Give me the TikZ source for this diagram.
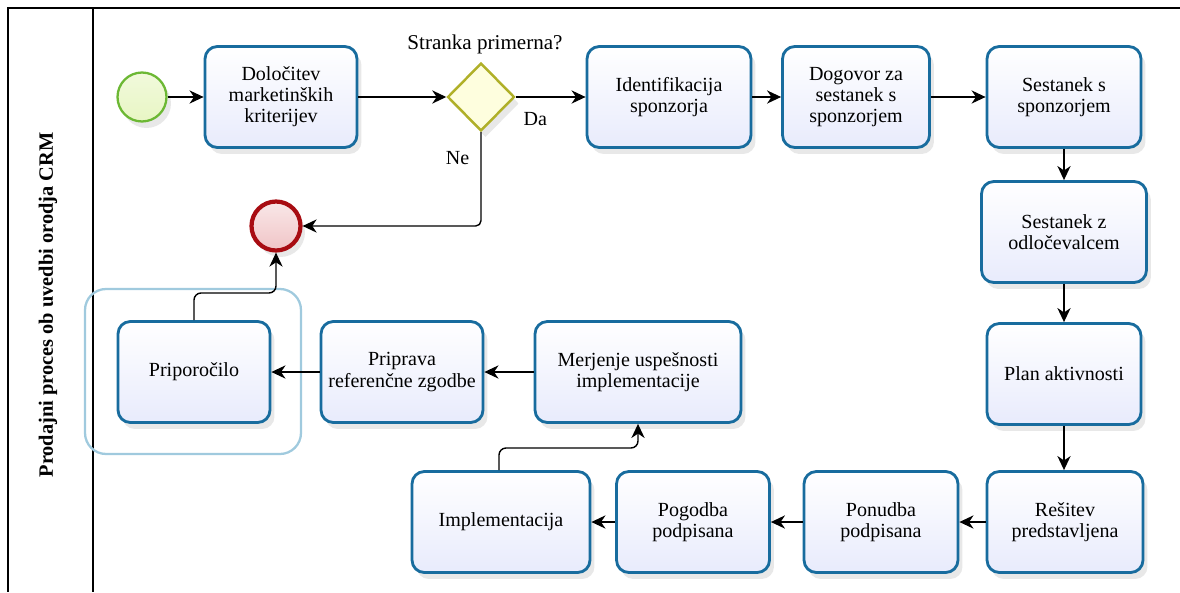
\documentclass[tikz,border=0pt]{standalone}
\usepackage{fontspec}
\setmainfont{Liberation Serif}
\newfontfamily\diagfont{Liberation Serif}
\usetikzlibrary{arrows.meta,shapes.geometric,shadows}
\definecolor{taskborder}{RGB}{24,108,158}
\definecolor{taskfill}{RGB}{232,235,252}
\definecolor{groupline}{RGB}{160,202,222}
\definecolor{startline}{RGB}{108,184,52}
\definecolor{startfill}{RGB}{232,246,196}
\definecolor{endline}{RGB}{168,12,18}
\definecolor{endfill}{RGB}{240,196,198}
\definecolor{gwline}{RGB}{176,176,40}
\definecolor{gwfill}{RGB}{254,254,222}
\tikzset{
  shad/.style={drop shadow={opacity=0.18, shadow xshift=0.09cm, shadow yshift=-0.13cm}},
  task/.style={shad, rectangle, rounded corners=7pt, draw=taskborder, line width=1.6pt,
    top color=white, bottom color=taskfill, minimum height=2.02cm,
    align=center, font=\diagfont\fontsize{11.4}{12}\selectfont, inner sep=2pt},
  startev/.style={shad, circle, draw=startline, line width=1.3pt, top color=startfill!60, bottom color=startfill, minimum size=0.98cm, inner sep=0pt},
  endev/.style={shad, circle, draw=endline, line width=2.4pt, top color=endfill!40, bottom color=endfill, minimum size=0.98cm, inner sep=0pt},
  gateway/.style={shad, diamond, draw=gwline, line width=1.4pt, fill=gwfill, minimum width=1.34cm, minimum height=1.36cm, inner sep=0pt},
  flow/.style={draw=black, line width=0.8pt, -{Stealth[length=8pt,width=7.5pt,inset=2.5pt]}},
  lbl/.style={font=\diagfont\fontsize{11.4}{12}\selectfont},
  lane/.style={line width=0.9pt}
}
\begin{document}
\begin{tikzpicture}[x=0.02cm,y=-0.02cm]
\useasboundingbox (0,0) rectangle (1180,592);
% pool frame
\draw[lane] (1180,8) -- (8,8) -- (8,592);
\draw[lane] (93,8) -- (93,592);
\node[rotate=90, font=\diagfont\fontsize{11.6}{13}\selectfont\bfseries] (lanetitle) at (48,305) {Prodajni proces ob uvedbi orodja CRM};
% group around Priporočilo
\draw[groupline, line width=1.3pt, rounded corners=12pt] (85,289) rectangle (301,454);
% nodes
\node[startev] (start) at (142,97) {};
\node[task, minimum width=3.04cm] (t1) at (281,97) {Določitev\\marketinških\\kriterijev};
\node[gateway] (gw) at (481,97) {};
\node[lbl, font=\diagfont\fontsize{12}{13}\selectfont] (gwlabel) at (485,44) {Stranka primerna?};
\node[task, minimum width=3.28cm] (ident) at (669,97) {Identifikacija\\sponzorja};
\node[task, minimum width=2.94cm] (dog) at (856,97) {Dogovor za\\sestanek s\\sponzorjem};
\node[task, minimum width=3.08cm] (ses1) at (1064,97) {Sestanek s\\sponzorjem};
\node[task, minimum width=3.30cm] (ses2) at (1064,232) {Sestanek z\\odločevalcem};
\node[task, minimum width=3.08cm] (plan) at (1064,374) {Plan aktivnosti};
\node[task, minimum width=3.12cm] (res) at (1065,522) {Rešitev\\predstavljena};
\node[task, minimum width=3.08cm] (pon) at (881,522) {Ponudba\\podpisana};
\node[task, minimum width=3.06cm] (pog) at (693,522) {Pogodba\\podpisana};
\node[task, minimum width=3.56cm] (impl) at (501,522) {Implementacija};
\node[task, minimum width=4.12cm] (mer) at (638,372) {Merjenje uspešnosti\\implementacije};
\node[task, minimum width=3.24cm] (pri) at (402,372) {Priprava\\referenčne zgodbe};
\node[task, minimum width=3.04cm] (prip) at (194,372) {Priporočilo};
\node[endev] (endc) at (276,226) {};
% helper coordinates
\coordinate (k1) at (0,293);
\coordinate (k2) at (0,448);
% connectors
\draw[flow] (start) -- (t1);
\draw[flow] (t1) -- (gw);
\draw[flow] (gw.east) -- (ident.west) node[lbl, pos=0.28, below=5pt] (da) {Da};
\draw[flow, rounded corners=3pt] (gw.south) |- (endc.east) node[lbl, pos=0.14, left=3pt] (ne) {Ne};
\draw[flow] (ident) -- (dog);
\draw[flow] (dog) -- (ses1);
\draw[flow] (ses1) -- (ses2);
\draw[flow] (ses2) -- (plan);
\draw[flow] (plan.south) -- (res.north -| plan.south);
\draw[flow] (res) -- (pon);
\draw[flow] (pon) -- (pog);
\draw[flow] (pog) -- (impl);
\draw[flow, rounded corners=4pt] (impl.north -| 499,0) |- (mer.south |- k2) -- (mer.south);
\draw[flow] (mer) -- (pri);
\draw[flow] (pri) -- (prip);
\draw[flow, rounded corners=4pt] (prip.north) |- (endc.south |- k1) -- (endc.south);
\end{tikzpicture}
\end{document}
